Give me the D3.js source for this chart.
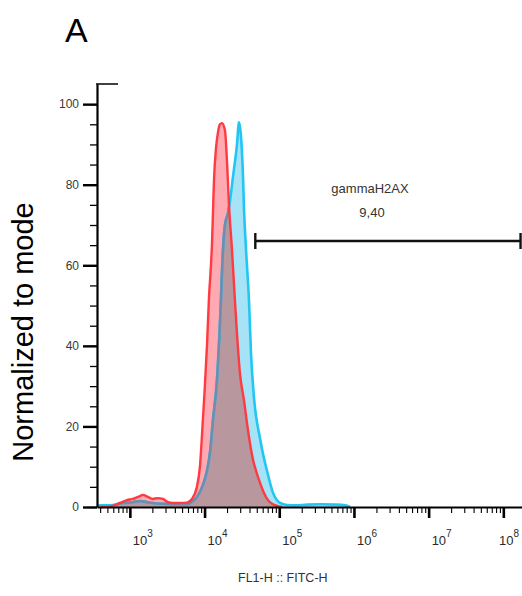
<!DOCTYPE html>
<html>
<head>
<meta charset="utf-8">
<script src="https://d3js.org/d3.v7.min.js"></script>
<style>
  body { margin: 0; background: #fff; }
  svg { display: block; font-family: "Liberation Sans", Arial, sans-serif; }
</style>
</head>
<body>
<div id="chart"></div>
<script>
// FITC intensity (x) and normalized count (y)
var redX = [400, 540, 735, 912, 1097, 1361, 1494, 1742, 2032, 2372, 2767, 3228, 3766, 4677, 5805, 6775, 7904, 8670, 9518,
            10100, 10770, 11460, 12180, 12550, 12960, 13370, 14220, 15120, 16080, 17100, 18750, 19950, 21220, 23270, 25560,
            29840, 33730, 38190, 44560, 48880, 55340, 62530, 70770, 80000, 93350, 109100];
var redY = [0, 0.1, 1, 1.7, 2, 2.7, 3, 2.5, 2, 2.2, 2, 1.2, 1, 1, 1.1, 2, 5, 10, 22,
            30, 40, 52, 60, 65, 73, 81, 89, 93, 95, 95.3, 93.5, 86, 75, 64, 51,
            33, 26.5, 19, 11.7, 9, 6, 3.5, 1.7, 0.8, 0.3, 0];

var blueX = [363, 400, 540, 806, 1097, 1361, 1690, 2032, 2767, 3766, 5805, 7000, 7904, 9518, 10770, 11810, 12960, 14660,
             16080, 17660, 18750, 20590, 21900, 24030, 27180, 28910, 30750, 32720, 33730, 35880, 39380, 41890, 45960,
             55340, 62530, 68540, 82600, 102600, 127300, 163000, 235900, 352600, 559700, 762500, 888600];
var blueY = [0.3, 0.4, 0.4, 1, 1.2, 1.5, 1.2, 1, 0.8, 0.7, 0.7, 1.5, 2.5, 5.5, 9, 13.4, 21.6, 31.5,
             45.6, 64, 70, 73, 76, 82, 90, 95.5, 92, 82, 74, 64, 51, 38, 27,
             17, 12, 9, 3.5, 1, 0.5, 0.4, 0.6, 0.7, 0.6, 0.4, 0];

var yTicks = [0, 20, 40, 60, 80, 100];
var xDecades = [3, 4, 5, 6, 7, 8];

var gateLabel = "gammaH2AX";
var gateValue = "9,40";
var gateFrom = 47800, gateTo = 170000000;

var width = 522, height = 596;

var svg = d3.select("#chart").append("svg")
    .attr("width", width)
    .attr("height", height);

var x = d3.scaleLog()
    .domain([Math.pow(10, 2.56), Math.pow(10, 8.25)])
    .range([97, 522]);

var y = d3.scaleLinear()
    .domain([0, 105])
    .range([507, 84]);

function area(xs, ys) {
    return d3.area()
        .x(function(d, i) { return x(xs[i]); })
        .y0(y(0))
        .y1(function(d, i) { return y(ys[i]); })
        .curve(d3.curveMonotoneX)(xs);
}
function line(xs, ys) {
    return d3.line()
        .x(function(d, i) { return x(xs[i]); })
        .y(function(d, i) { return y(ys[i]); })
        .curve(d3.curveMonotoneX)(xs);
}

var defs = svg.append("defs");
defs.append("clipPath").attr("id", "clipBlue")
    .append("path").attr("d", area(blueX, blueY));
defs.append("clipPath").attr("id", "clipRed")
    .append("path").attr("d", area(redX, redY));

// blue (sample) below, red (control) on top, overlap shaded
var hist = svg.append("g").attr("class", "hist");
hist.append("path")
    .attr("d", area(blueX, blueY))
    .attr("fill", "#a6e3f7");
hist.append("path")
    .attr("d", area(redX, redY))
    .attr("fill", "#ffaab2");
hist.append("path")
    .attr("d", area(redX, redY))
    .attr("clip-path", "url(#clipBlue)")
    .attr("fill", "#b8979f");
hist.append("path")
    .attr("d", line(blueX, blueY))
    .attr("fill", "none")
    .attr("stroke", "#22c6f4")
    .attr("stroke-width", 2.6);
hist.append("path")
    .attr("d", line(blueX, blueY))
    .attr("clip-path", "url(#clipRed)")
    .attr("fill", "none")
    .attr("stroke", "#6f8db0")
    .attr("stroke-width", 2.6);
hist.append("path")
    .attr("d", line(redX, redY))
    .attr("fill", "none")
    .attr("stroke", "#ff3a40")
    .attr("stroke-width", 2.4);

// y axis
var yMinor = d3.range(0, 101, 5);
svg.append("g")
    .attr("transform", "translate(97,0)")
    .call(d3.axisLeft(y).tickValues(yMinor).tickSize(7).tickSizeOuter(0).tickFormat(""))
    .call(function(g) {
        g.select(".domain").attr("stroke-width", 2.2);
        g.selectAll(".tick line").attr("stroke-width", 1.3);
    });
svg.append("g")
    .attr("transform", "translate(97,0)")
    .call(d3.axisLeft(y).tickValues(yTicks).tickSize(14).tickSizeOuter(0).tickPadding(4))
    .call(function(g) {
        g.select(".domain").remove();
        g.selectAll(".tick line").attr("stroke-width", 2.4);
        g.selectAll(".tick text")
            .attr("font-size", 12)
            .attr("fill", "#3a3a3a")
            .attr("font-family", "Liberation Sans, Arial, sans-serif");
    });
svg.append("line")
    .attr("x1", 96).attr("x2", 118)
    .attr("y1", y(105)).attr("y2", y(105))
    .attr("stroke", "#000").attr("stroke-width", 1.5);

// x axis
var xMinor = [];
d3.range(2, 9).forEach(function(p) {
    d3.range(2, 10).forEach(function(m) {
        var v = m * Math.pow(10, p);
        if (v >= x.domain()[0] && v <= x.domain()[1]) xMinor.push(v);
    });
});
svg.append("g")
    .attr("transform", "translate(0," + y(0) + ")")
    .call(d3.axisBottom(x).tickValues(xMinor).tickSize(6).tickSizeOuter(0).tickFormat(""))
    .call(function(g) {
        g.select(".domain").attr("stroke-width", 2);
        g.selectAll(".tick line").attr("stroke-width", 1.1);
    });
svg.append("g")
    .attr("transform", "translate(0," + y(0) + ")")
    .call(d3.axisBottom(x).tickValues(xDecades.map(function(p) { return Math.pow(10, p); }))
        .tickSize(11).tickSizeOuter(0).tickFormat(""))
    .call(function(g) {
        g.select(".domain").remove();
        g.selectAll(".tick line").attr("stroke-width", 2.6);
    });

var xLab = svg.append("g").attr("class", "xlabels");
xDecades.forEach(function(p) {
    var lx = Math.min(x(Math.pow(10, p)) + 3, width - 23);
    var t = xLab.append("text")
        .attr("x", lx)
        .attr("y", 545)
        .attr("font-size", 13)
        .attr("fill", "#2a2a2a");
    t.append("tspan").text("10");
    t.append("tspan").attr("dy", -8).attr("font-size", 10).text(p);
});

// gate
var gy = 241;
var gate = svg.append("g").attr("stroke", "#111").attr("stroke-width", 2.4);
gate.append("line").attr("x1", x(gateFrom)).attr("x2", x(gateTo)).attr("y1", gy).attr("y2", gy);
gate.append("line").attr("x1", x(gateFrom)).attr("x2", x(gateFrom)).attr("y1", gy - 8).attr("y2", gy + 8);
gate.append("line").attr("x1", x(gateTo)).attr("x2", x(gateTo)).attr("y1", gy - 8).attr("y2", gy + 8);

svg.append("text")
    .attr("x", 370).attr("y", 193)
    .attr("text-anchor", "middle")
    .attr("font-size", 13)
    .attr("fill", "#333")
    .text(gateLabel);
svg.append("text")
    .attr("x", 372).attr("y", 217)
    .attr("text-anchor", "middle")
    .attr("font-size", 13)
    .attr("fill", "#333")
    .text(gateValue);

// axis titles
svg.append("text")
    .attr("x", 238).attr("y", 582)
    .attr("font-size", 12.5)
    .attr("fill", "#333")
    .text("FL1-H :: FITC-H");

svg.append("text")
    .attr("transform", "translate(33,332) rotate(-90)")
    .attr("text-anchor", "middle")
    .attr("font-size", 29)
    .attr("fill", "#000")
    .text("Normalized to mode");

svg.append("text")
    .attr("x", 65).attr("y", 42)
    .attr("font-size", 34)
    .attr("fill", "#000")
    .text("A");
</script>
</body>
</html>
